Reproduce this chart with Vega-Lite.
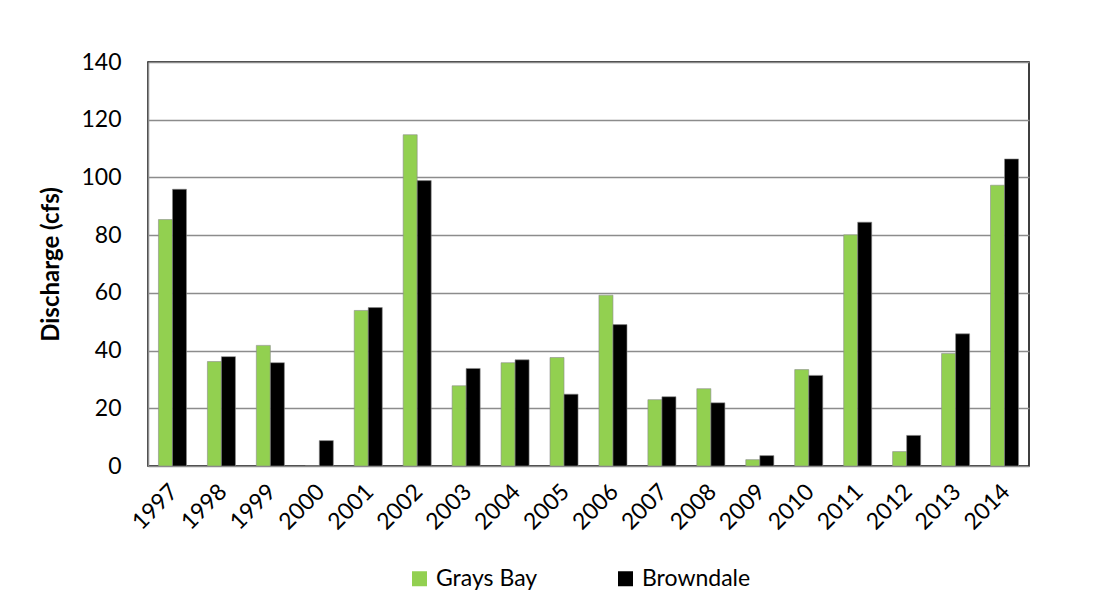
{
  "$schema": "https://vega.github.io/schema/vega-lite/v6.json",
  "width": 881,
  "height": 404,
  "padding": {"left": 148, "top": 62, "right": 85, "bottom": 147},
  "autosize": {"type": "none"},
  "background": "white",
  "data": {
    "values": [
      {"year": "1997", "site": "Grays Bay", "q": 85.4}, {"year": "1997", "site": "Browndale", "q": 95.9},
      {"year": "1998", "site": "Grays Bay", "q": 36.2}, {"year": "1998", "site": "Browndale", "q": 37.9},
      {"year": "1999", "site": "Grays Bay", "q": 41.8}, {"year": "1999", "site": "Browndale", "q": 35.8},
      {"year": "2000", "site": "Grays Bay", "q": 0}, {"year": "2000", "site": "Browndale", "q": 8.8},
      {"year": "2001", "site": "Grays Bay", "q": 53.9}, {"year": "2001", "site": "Browndale", "q": 54.9},
      {"year": "2002", "site": "Grays Bay", "q": 114.8}, {"year": "2002", "site": "Browndale", "q": 98.9},
      {"year": "2003", "site": "Grays Bay", "q": 27.8}, {"year": "2003", "site": "Browndale", "q": 33.8},
      {"year": "2004", "site": "Grays Bay", "q": 35.8}, {"year": "2004", "site": "Browndale", "q": 36.8},
      {"year": "2005", "site": "Grays Bay", "q": 37.6}, {"year": "2005", "site": "Browndale", "q": 24.9},
      {"year": "2006", "site": "Grays Bay", "q": 59.2}, {"year": "2006", "site": "Browndale", "q": 49.0},
      {"year": "2007", "site": "Grays Bay", "q": 23.0}, {"year": "2007", "site": "Browndale", "q": 24.0},
      {"year": "2008", "site": "Grays Bay", "q": 26.8}, {"year": "2008", "site": "Browndale", "q": 21.9},
      {"year": "2009", "site": "Grays Bay", "q": 2.2}, {"year": "2009", "site": "Browndale", "q": 3.6},
      {"year": "2010", "site": "Grays Bay", "q": 33.4}, {"year": "2010", "site": "Browndale", "q": 31.4},
      {"year": "2011", "site": "Grays Bay", "q": 80.1}, {"year": "2011", "site": "Browndale", "q": 84.5},
      {"year": "2012", "site": "Grays Bay", "q": 5.0}, {"year": "2012", "site": "Browndale", "q": 10.6},
      {"year": "2013", "site": "Grays Bay", "q": 39.0}, {"year": "2013", "site": "Browndale", "q": 45.8},
      {"year": "2014", "site": "Grays Bay", "q": 97.3}, {"year": "2014", "site": "Browndale", "q": 106.4}
    ]
  },
  "mark": {"type": "bar", "stroke": "#8c8c8c", "strokeWidth": 0.6},
  "encoding": {
    "x": {
      "field": "year", "type": "nominal", "sort": null,
      "scale": {"paddingInner": 0.427, "paddingOuter": 0.2135},
      "axis": {"title": null, "labelAngle": -45, "labelFontSize": 23, "labelFont": "Lato", "labelColor": "#000", "ticks": false, "domain": false, "labelPadding": 14, "labelOffset": -6}
    },
    "xOffset": {"field": "site", "type": "nominal", "sort": ["Grays Bay", "Browndale"], "scale": {"paddingInner": 0}},
    "y": {
      "field": "q", "type": "quantitative",
      "scale": {"domain": [0, 140], "nice": false},
      "axis": {"title": "Discharge (cfs)", "titleFont": "Lato", "titleFontSize": 24, "titleFontWeight": "bold", "titleColor": "#000", "titlePadding": 17,
               "values": [0, 20, 40, 60, 80, 100, 120, 140], "labelFontSize": 23, "labelFont": "Lato", "labelColor": "#000", "labelPadding": 27, "ticks": false,
               "domainColor": "#8c8c8c", "domainWidth": 1.5, "gridColor": "#8c8c8c", "gridWidth": 1.5}
    },
    "color": {
      "field": "site", "type": "nominal",
      "scale": {"domain": ["Grays Bay", "Browndale"], "range": ["#92D050", "#000000"]},
      "legend": {"title": null, "orient": "none", "legendX": 260, "legendY": 505, "direction": "horizontal",
                 "symbolType": "square", "symbolSize": 225, "symbolStrokeWidth": 0, "labelFont": "Lato", "labelFontSize": 23, "labelColor": "#000",
                 "columnPadding": 76, "labelOffset": 5}
    }
  },
  "config": {
    "view": {"stroke": "#000", "strokeWidth": 1.5}
  }
}
